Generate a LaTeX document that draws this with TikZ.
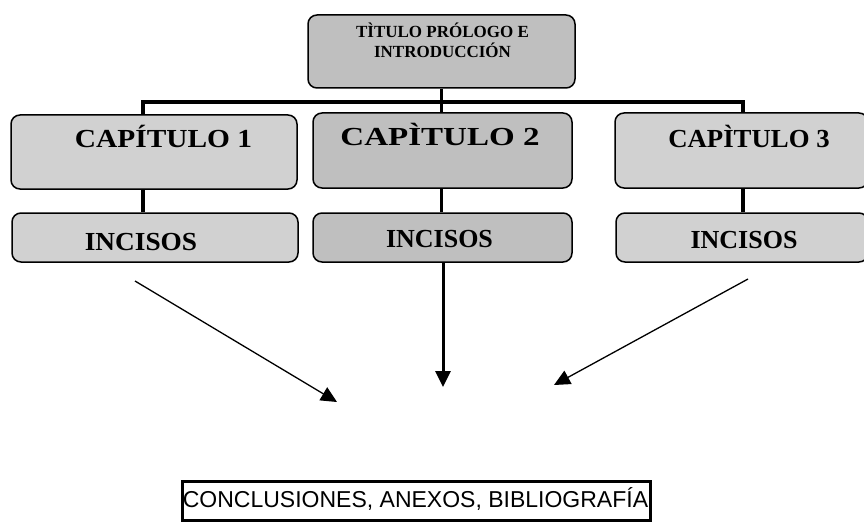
\documentclass[tikz,border=0pt]{standalone}
\usepackage{fontspec}
\setmainfont{Liberation Serif}
\newfontfamily\arialf{Liberation Sans}
\usetikzlibrary{arrows.meta}
\tikzset{
  boxa/.style={draw, line width=1.5pt, rounded corners=9pt, fill=gray!36, inner sep=0pt},
  boxb/.style={boxa, fill=gray!50},
  lab/.style={anchor=base, inner sep=0pt, font=\bfseries\fontsize{26}{28}\selectfont},
  conn/.style={line width=3.5pt},
  thinarr/.style={line width=1.3pt, -{Triangle[length=16pt,width=15pt]}},
  thickarr/.style={line width=3pt, -{Triangle[length=16pt,width=15pt]}},
}
\begin{document}
\begin{tikzpicture}[x=1pt,y=-1pt]
\useasboundingbox (0,0) rectangle (864,524);
\clip (0,0) rectangle (864,524);
% boxes
\node[boxb, minimum width=267pt, minimum height=73pt] (top) at (441.5,51.5) {};
\node[boxa, minimum width=286pt, minimum height=74pt] (c1) at (154,152) {};
\node[boxb, minimum width=259pt, minimum height=75pt] (c2) at (442.5,150.5) {};
\node[boxa, minimum width=253pt, minimum height=75pt] (c3) at (741.5,150.5) {};
\node[boxa, minimum width=286pt, minimum height=49pt] (i1) at (155,237.5) {};
\node[boxb, minimum width=259pt, minimum height=49pt] (i2) at (442.5,237.5) {};
\node[boxa, minimum width=252pt, minimum height=49pt] (i3) at (742,237.5) {};
% texts
\node[lab, font=\bfseries\fontsize{17}{20}\selectfont] (t1) at (442.5,38) {TÌTULO PRÓLOGO E};
\node[lab, font=\bfseries\fontsize{17}{20}\selectfont] (t2) at (442.5,58) {INTRODUCCIÓN};
\node[lab] (c1t) at (163.5,147) {\scalebox{1.13}[1]{CAPÍTULO 1}};
\node[lab] (c2t) at (440,145) {\scalebox{1.27}[1]{CAPÌTULO 2}};
\node[lab] (c3t) at (749,147) {\scalebox{1.03}[1]{CAPÌTULO 3}};
\node[lab] (i1t) at (141,250) {\scalebox{1.05}[1]{INCISOS}};
\node[lab] (i2t) at (439.5,247) {INCISOS};
\node[lab] (i3t) at (744,248) {INCISOS};
% connectors
\coordinate (bl) at (143,102);
\coordinate (br) at (743,102);
\draw[conn] (bl |- c1.north) -- (bl) -- (br) -- (br |- c3.north);
\draw[conn] (top.south) -- (top.south |- c2.north);
\draw[conn] (bl |- c1.south) -- (bl |- i1.north);
\draw[conn] (top.south |- c2.south) -- (top.south |- i2.north);
\draw[conn] (br |- c3.south) -- (br |- i3.north);
% arrows
\coordinate (la) at (135,281);
\coordinate (lt) at (337,402);
\coordinate (mt) at (443,387);
\coordinate (ra) at (748,279);
\coordinate (rt) at (554,385);
\draw[thinarr] (la) -- (lt);
\draw[thickarr] (i2.south -| mt) -- (mt);
\draw[thinarr] (ra) -- (rt);
% bottom box
\node[draw, line width=3pt, minimum width=468pt, minimum height=39pt, inner sep=0pt] (bot) at (416,500.5) {};
\node[anchor=base, inner sep=0pt, font=\arialf\fontsize{23}{26}\selectfont] (bott) at (415.5,507) {CONCLUSIONES, ANEXOS, BIBLIOGRAFÍA};
\end{tikzpicture}
\end{document}
